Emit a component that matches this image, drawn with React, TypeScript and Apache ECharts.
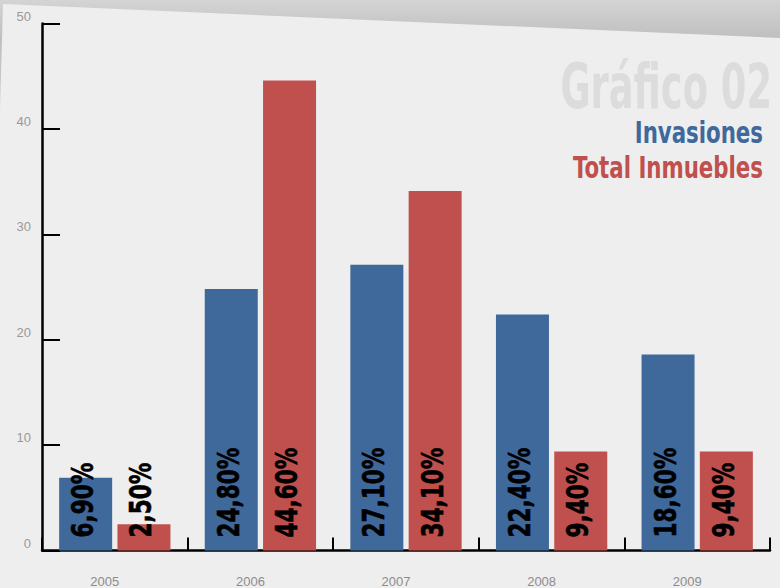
import React, { useEffect, useRef } from "react";
import * as echarts from "echarts";

const years = ["2005", "2006", "2007", "2008", "2009"];
const invasiones = [6.9, 24.8, 27.1, 22.4, 18.6];
const totalInmuebles = [2.5, 44.6, 34.1, 9.4, 9.4];
const seriesNames = ["Invasiones", "Total Inmuebles"];
const titleText = "Gráfico 02";

const BLUE = "#3F689B";
const RED = "#C0504D";
const NARROW = "'DejaVu Sans Condensed', 'Liberation Sans Narrow', sans-serif";
const BAR_W = 53;
const GAP = 0.1;

const fmt = (v: number) => v.toFixed(2).replace(".", ",") + "%";

function labelSeries(name: string, values: number[], side: number) {
  return {
    name: name + " etiquetas",
    type: "custom",
    z: 10,
    silent: true,
    tooltip: { show: false },
    data: values.map((v, i) => [i, v]),
    renderItem: (params: any, api: any) => {
      const p = api.coord([api.value(0), 0]);
      const off = side * (BAR_W / 2 + (BAR_W * GAP) / 2);
      return {
        type: "text",
        x: p[0] + off - 3,
        y: p[1] - 13,
        rotation: Math.PI / 2,
        scaleX: 0.8,
        style: {
          text: fmt(api.value(1)),
          align: "left",
          verticalAlign: "middle",
          fill: "#000",
          stroke: "#000",
          lineWidth: 0.6,
          font: "bold 30px " + NARROW,
        },
      };
    },
  };
}

export default function App() {
  const ref = useRef<HTMLDivElement>(null);
  useEffect(() => {
    if (!ref.current) return;
    const chart = echarts.init(ref.current, null, { renderer: "svg" });
    chart.setOption({
      animation: false,
      backgroundColor: {
        type: "linear",
        x: 0, y: 0, x2: 0, y2: 1,
        colorStops: [
          { offset: 0, color: "#d4d4d4" },
          { offset: 0.065, color: "#bfbfbf" },
          { offset: 0.2, color: "#cfcfcf" },
          { offset: 1, color: "#d8d8d8" },
        ],
      },
      graphic: [
        {
          type: "polygon",
          z: -10,
          silent: true,
          shape: { points: [[3, 4], [780, 38], [780, 588], [0, 588], [0, 110]] },
          style: { fill: "#eeeeee" },
        },
        {
          type: "text",
          x: 772,
          y: 86,
          scaleX: 0.66,
          z: -5,
          style: {
            text: titleText,
            align: "right",
            verticalAlign: "middle",
            fill: "#dcdcdc",
            font: "bold 62px " + NARROW,
          },
        },
        {
          type: "text",
          x: 763,
          y: 132,
          scaleX: 0.79,
          style: {
            text: seriesNames[0],
            align: "right",
            verticalAlign: "middle",
            fill: BLUE,
            font: "bold 30px " + NARROW,
          },
        },
        {
          type: "text",
          x: 763,
          y: 167,
          scaleX: 0.79,
          style: {
            text: seriesNames[1],
            align: "right",
            verticalAlign: "middle",
            fill: RED,
            font: "bold 30px " + NARROW,
          },
        },
      ],
      grid: { left: 42, right: 10, top: 23.5, bottom: 33, containLabel: false },
      xAxis: {
        type: "category",
        data: years,
        boundaryGap: true,
        axisLine: { show: true, lineStyle: { color: "#000", width: 2.5 } },
        axisTick: { show: true, inside: true, length: 13, lineStyle: { color: "#000", width: 2 } },
        axisLabel: {
          color: "#8c8c8c",
          fontSize: 13,
          fontFamily: "'Liberation Sans', Arial, sans-serif",
          margin: 24.5,
          padding: [0, 20, 0, 0],
        },
        splitLine: { show: false },
      },
      yAxis: {
        type: "value",
        min: 0,
        max: 50,
        interval: 10,
        axisLine: { show: true, lineStyle: { color: "#000", width: 2.5 } },
        axisTick: { show: true, inside: true, length: 18, lineStyle: { color: "#000", width: 2 } },
        axisLabel: {
          color: "#999999",
          fontSize: 13,
          fontFamily: "'Liberation Sans', Arial, sans-serif",
          margin: 11,
          verticalAlign: "bottom",
          padding: [0, 0, 1, 0],
        },
        splitLine: { show: false },
      },
      series: [
        {
          name: seriesNames[0],
          type: "bar",
          data: invasiones,
          barWidth: BAR_W,
          barGap: GAP * 100 + "%",
          itemStyle: { color: BLUE },
        },
        {
          name: seriesNames[1],
          type: "bar",
          data: totalInmuebles,
          barWidth: BAR_W,
          barGap: GAP * 100 + "%",
          itemStyle: { color: RED },
        },
        labelSeries(seriesNames[0], invasiones, -1),
        labelSeries(seriesNames[1], totalInmuebles, 1),
      ],
    });
    return () => chart.dispose();
  }, []);
  return (
    <div
      ref={ref}
      style={{ position: "fixed", left: 0, top: 0, width: 780, height: 588 }}
    />
  );
}
